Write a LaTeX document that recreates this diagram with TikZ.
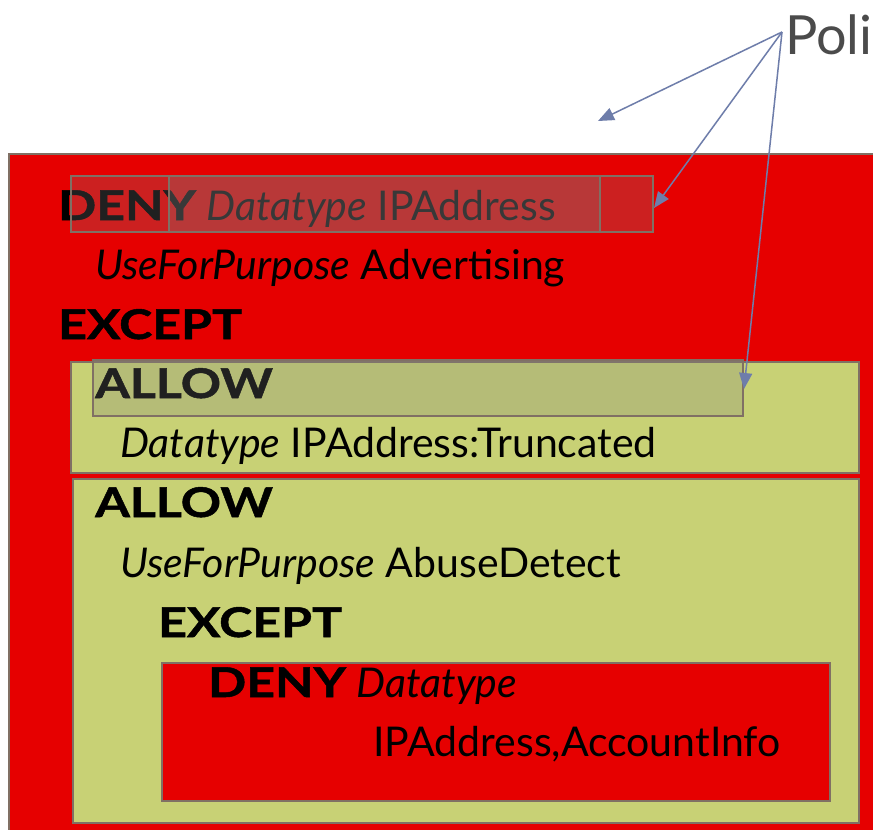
\documentclass[tikz,border=0pt]{standalone}
\usepackage{fontspec}
\setmainfont{Lato}[BoldFeatures={FakeStretch=1.22,FakeBold=1.2}]
\usetikzlibrary{arrows.meta}
\definecolor{redbg}{RGB}{230,0,0}
\definecolor{olivebg}{RGB}{200,209,117}
\definecolor{edgec}{RGB}{128,112,100}
\definecolor{arrowc}{RGB}{110,125,170}
\definecolor{polic}{RGB}{75,75,75}
\begin{document}
\begin{tikzpicture}[x=1pt,y=-1pt,
  box/.style={draw=edgec, line width=2pt, anchor=north west, inner sep=0pt},
  shade/.style={draw=edgec, line width=2pt, anchor=north west, inner sep=0pt, fill=gray, fill opacity=0.25},
  txt/.style={anchor=base west, inner sep=0pt, font=\fontsize{41}{48}\selectfont},
  ptr/.style={draw=arrowc, line width=1.5pt, -{Triangle[length=16pt,width=13pt]}}]
\useasboundingbox (0,0) rectangle (873,830);
\clip (0,0) rectangle (873,830);
\fill[white] (0,0) rectangle (873,830);
% outer
\node[box, fill=redbg, minimum width=880pt, minimum height=690pt] (outer) at (8,153) {};
\node[txt] (t1) at (58,220) {\textbf{DENY} \textit{Datatype} IPAddress};
\node[txt] (t2) at (95,279) {\textit{UseForPurpose} Advertising};
\node[txt] (t3) at (58,339) {\textbf{EXCEPT}};
\node[shade, minimum width=582pt, minimum height=56pt] (boxA) at (70,175) {};
\node[shade, minimum width=431pt, minimum height=56pt] (boxB) at (168,175) {};
% allow 1
\node[box, fill=olivebg, minimum width=788pt, minimum height=111pt] (boxC) at (70,361) {};
\node[txt] (t4) at (95,398) {\textbf{ALLOW}};
\node[txt] (t5) at (120,457) {\textit{Datatype} IPAddress:Truncated};
\node[shade, minimum width=650pt, minimum height=56pt] (boxD) at (92,359) {};
% allow 2
\node[box, fill=olivebg, minimum width=786pt, minimum height=344pt] (boxE) at (72,478) {};
\node[txt] (t6) at (95,517) {\textbf{ALLOW}};
\node[txt] (t7) at (120,577) {\textit{UseForPurpose} AbuseDetect};
\node[txt] (t8) at (158,637) {\textbf{EXCEPT}};
\node[box, fill=redbg, minimum width=668pt, minimum height=138pt] (boxF) at (161,662) {};
\node[txt] (t9) at (208,697) {\textbf{DENY} \textit{Datatype}};
\node[txt] (t10) at (373,756) {IPAddress,AccountInfo};
% Poli
\node[anchor=base west, inner sep=0pt, text=polic, font=\fontsize{54}{64}\selectfont] (poli) at (785,54) {Poli};
\coordinate (src) at (782,32);
\coordinate (end1) at (598,121);
\draw[ptr] (src) -- (end1);
\draw[ptr] (src) -- ([yshift=-4pt]boxA.east);
\draw[ptr] (src) -- ([yshift=-1pt]boxD.east);
\end{tikzpicture}
\end{document}
